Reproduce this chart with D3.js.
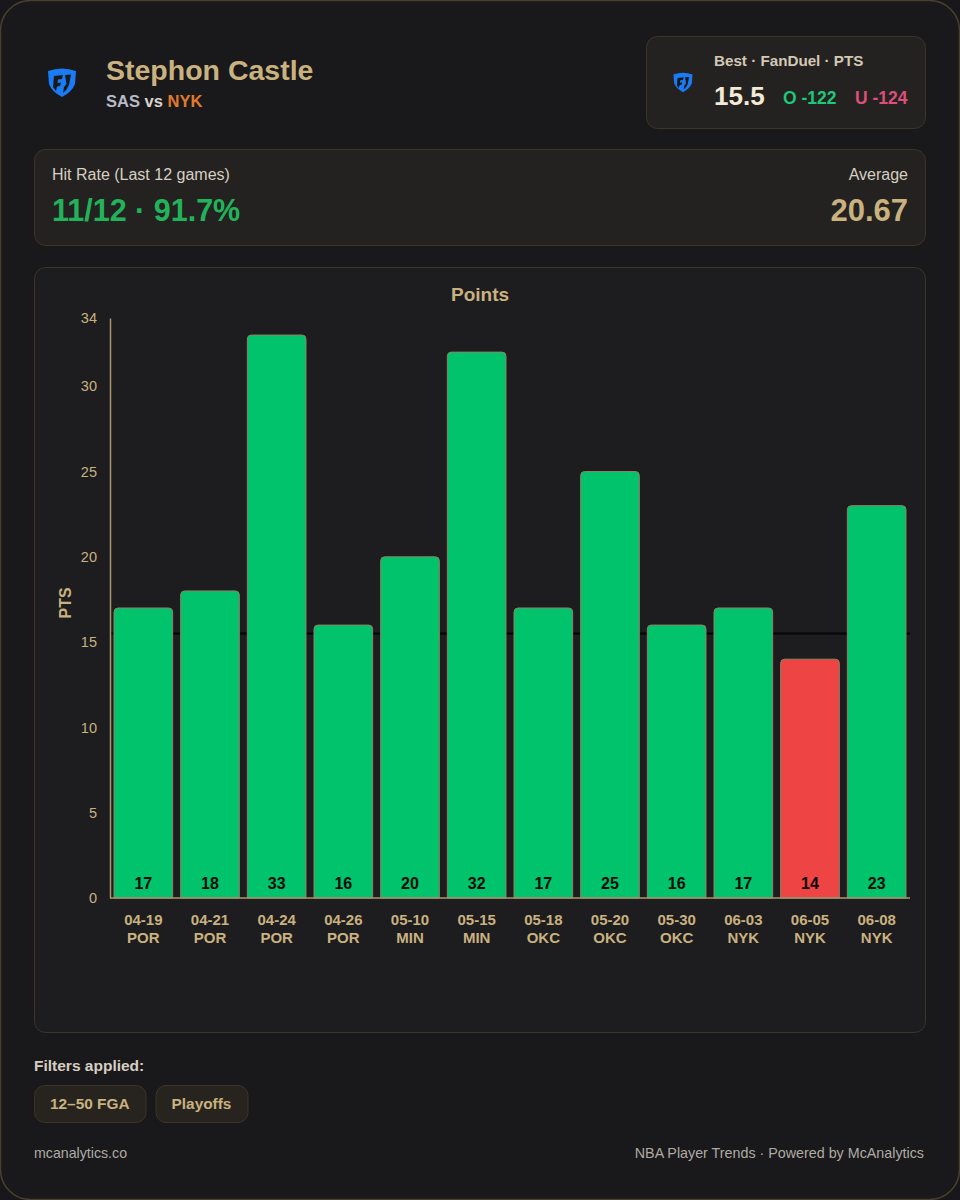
<!DOCTYPE html>
<html>
<head>
<meta charset="utf-8">
<script src="https://cdn.jsdelivr.net/npm/d3@7"></script>
<style>
  html, body { margin: 0; padding: 0; background: #18171a; }
  svg { display: block; font-family: "Liberation Sans", Arial, sans-serif; }
</style>
</head>
<body>
<svg id="chart" width="960" height="1200"></svg>
<script>
// game data
const dates = ["04-19", "04-21", "04-24", "04-26", "05-10", "05-15", "05-18", "05-20", "05-30", "06-03", "06-05", "06-08"];
const opponents = ["POR", "POR", "POR", "POR", "MIN", "MIN", "OKC", "OKC", "OKC", "NYK", "NYK", "NYK"];
const points = [17, 18, 33, 16, 20, 32, 17, 25, 16, 17, 14, 23];
const yTicks = [0, 5, 10, 15, 20, 25, 30, 34];
const line = 15.5;
const filters = ["12\u201350 FGA", "Playoffs"];

const svg = d3.select("#chart");

const tan = "#c9b27f";
const panelFill = "#242220";
const panelStroke = "#3d3526";

// outer card
svg.append("rect")
    .attr("x", 0.5).attr("y", 0.5)
    .attr("width", 959).attr("height", 1199)
    .attr("rx", 30)
    .style("fill", "#19181b")
    .style("stroke", "#4a3f2a")
    .style("stroke-width", "1.5px");

// fanduel shield logo
function shield(g, cx, cy, s) {
    let p = g.append("g").attr("transform", "translate(" + cx + "," + cy + ") scale(" + s + ")");
    p.append("path")
        .attr("d", "M-14 -11 Q0 -16 14 -11 L13 2 Q10 10 0 15 Q-10 10 -13 2 Z")
        .style("fill", "#1a7cf5");
    p.append("path")
        .attr("d", "M-8 -6 L1 -7 L0 -3 L-4 -2.5 L-4.5 1 L-1 0.5 L-2 4 L-5 4.5 L-6 9 L-9 5 Z")
        .style("fill", "#19181b");
    p.append("path")
        .attr("d", "M3 -7 L9 -7.5 L7 3 Q5 8 1 11 L2 5 L4.5 2 Z")
        .style("fill", "#19181b");
}

shield(svg, 62, 82, 1.0);

svg.append("text")
    .attr("x", 106).attr("y", 80)
    .style("font-size", "28.5px").style("font-weight", "bold")
    .style("fill", tan)
    .text("Stephon Castle");

let sub = svg.append("text")
    .attr("x", 106).attr("y", 107)
    .style("font-size", "16.5px").style("font-weight", "bold");
sub.append("tspan").style("fill", "#b8bcc4").text("SAS");
sub.append("tspan").style("fill", "#d8d4cc").text(" vs ");
sub.append("tspan").style("fill", "#e27a2c").text("NYK");

// best line box
svg.append("rect")
    .attr("x", 646.5).attr("y", 36.5)
    .attr("width", 279).attr("height", 92)
    .attr("rx", 11)
    .style("fill", panelFill).style("stroke", panelStroke);

shield(svg, 683, 82, 0.68);

svg.append("text")
    .attr("x", 714).attr("y", 66)
    .style("font-size", "15.2px").style("font-weight", "bold")
    .style("fill", "#d2c9b6")
    .text("Best \u00b7 FanDuel \u00b7 PTS");

svg.append("text")
    .attr("x", 714).attr("y", 105)
    .style("font-size", "26px").style("font-weight", "bold")
    .style("fill", "#f3ead6")
    .text(line);

svg.append("text")
    .attr("x", 783).attr("y", 104)
    .style("font-size", "17.5px").style("font-weight", "bold")
    .style("fill", "#1fc77a")
    .text("O -122");

svg.append("text")
    .attr("x", 855).attr("y", 104)
    .style("font-size", "17.5px").style("font-weight", "bold")
    .style("fill", "#dc4f7a")
    .text("U -124");

// hit rate panel
let hits = points.filter(function (d) { return d > line; }).length;
let avg = d3.mean(points);

svg.append("rect")
    .attr("x", 34.5).attr("y", 149.5)
    .attr("width", 891).attr("height", 96)
    .attr("rx", 11)
    .style("fill", panelFill).style("stroke", panelStroke);

svg.append("text")
    .attr("x", 52).attr("y", 180)
    .style("font-size", "16px")
    .style("fill", "#d6cfc2")
    .text("Hit Rate (Last " + points.length + " games)");

svg.append("text")
    .attr("x", 52).attr("y", 221)
    .style("font-size", "30.5px").style("font-weight", "bold")
    .style("fill", "#22b35a")
    .text(hits + "/" + points.length + " \u00b7 " + (hits / points.length * 100).toFixed(1) + "%");

svg.append("text")
    .attr("x", 908).attr("y", 180)
    .attr("text-anchor", "end")
    .style("font-size", "16px")
    .style("fill", "#d6cfc2")
    .text("Average");

svg.append("text")
    .attr("x", 908).attr("y", 221)
    .attr("text-anchor", "end")
    .style("font-size", "31px").style("font-weight", "bold")
    .style("fill", tan)
    .text(avg.toFixed(2));

// chart panel
svg.append("rect")
    .attr("x", 34.5).attr("y", 267.5)
    .attr("width", 891).attr("height", 765)
    .attr("rx", 11)
    .style("fill", "#1d1c1f").style("stroke", panelStroke);

svg.append("text")
    .attr("x", 480).attr("y", 301)
    .attr("text-anchor", "middle")
    .style("font-size", "19px").style("font-weight", "bold")
    .style("fill", tan)
    .text("Points");

let x = d3.scaleBand()
    .domain(dates)
    .range([110, 910])
    .paddingInner(0.12)
    .paddingOuter(0.06);

let y = d3.scaleLinear()
    .domain([0, 34])
    .range([898, 318]);

// threshold line behind the bars
svg.append("line")
    .attr("x1", 110).attr("x2", 910)
    .attr("y1", y(line)).attr("y2", y(line))
    .style("stroke", "#050505")
    .style("stroke-width", "2px");

let bars = svg.append("g").classed("bars", true);

bars.selectAll("path")
    .data(points)
    .enter().append("path")
    .attr("d", function (d, i) {
        let x0 = x(dates[i]), w = x.bandwidth(), top = y(d), bot = y(0), r = 4;
        return "M" + x0 + " " + bot + " V" + (top + r) + " Q" + x0 + " " + top + " " + (x0 + r) + " " + top +
            " H" + (x0 + w - r) + " Q" + (x0 + w) + " " + top + " " + (x0 + w) + " " + (top + r) + " V" + bot + " Z";
    })
    .style("fill", function (d) { return d > line ? "#00c36b" : "#ef4444"; })
    .style("stroke", "#8f8466")
    .style("stroke-width", "1px");

bars.selectAll("text")
    .data(points)
    .enter().append("text")
    .attr("x", function (d, i) { return x(dates[i]) + x.bandwidth() / 2; })
    .attr("y", 889)
    .attr("text-anchor", "middle")
    .style("font-size", "16px").style("font-weight", "bold")
    .style("fill", "#0a0a0a")
    .text(function (d) { return d; });

// y axis
let yAxis = svg.append("g")
    .attr("transform", "translate(110,0)")
    .call(d3.axisLeft(y).tickValues(yTicks).tickSize(0).tickPadding(13));

yAxis.select(".domain").style("stroke", "#a8966c").style("stroke-width", "1.5px");
yAxis.selectAll("text")
    .style("font-size", "14.5px")
    .style("font-family", "Liberation Sans, Arial, sans-serif")
    .style("fill", tan);

// x axis line
svg.append("line")
    .attr("x1", 110).attr("x2", 910)
    .attr("y1", y(0)).attr("y2", y(0))
    .style("stroke", "#a8966c")
    .style("stroke-width", "1.5px");

let xl = svg.append("g").classed("x-labels", true);
xl.selectAll("text")
    .data(dates)
    .enter().append("text")
    .attr("x", function (d) { return x(d) + x.bandwidth() / 2; })
    .attr("y", 925)
    .attr("text-anchor", "middle")
    .style("font-size", "15px").style("font-weight", "bold")
    .style("fill", tan)
    .each(function (d, i) {
        let t = d3.select(this);
        t.append("tspan").attr("x", x(d) + x.bandwidth() / 2).text(d);
        t.append("tspan").attr("x", x(d) + x.bandwidth() / 2).attr("dy", 17.5).text(opponents[i]);
    });

svg.append("text")
    .attr("transform", "translate(71," + (y(17.3)) + ") rotate(-90)")
    .attr("text-anchor", "middle")
    .style("font-size", "16px").style("font-weight", "bold")
    .style("fill", tan)
    .text("PTS");

// filters
svg.append("text")
    .attr("x", 34).attr("y", 1071)
    .style("font-size", "15.5px").style("font-weight", "bold")
    .style("fill", "#d6cfc2")
    .text("Filters applied:");

let pillX = 34;
filters.forEach(function (f) {
    let g = svg.append("g");
    let t = g.append("text")
        .attr("x", pillX + 16).attr("y", 1109)
        .style("font-size", "15.4px").style("font-weight", "bold")
        .style("fill", tan)
        .text(f);
    let w = t.node().getComputedTextLength() + 32;
    g.insert("rect", "text")
        .attr("x", pillX + 0.5).attr("y", 1085.5)
        .attr("width", w).attr("height", 37)
        .attr("rx", 10)
        .style("fill", "#27241f").style("stroke", panelStroke);
    pillX += w + 10;
});

// footer
svg.append("text")
    .attr("x", 34).attr("y", 1158)
    .style("font-size", "14.2px")
    .style("fill", "#b0aba3")
    .text("mcanalytics.co");

svg.append("text")
    .attr("x", 924).attr("y", 1158)
    .attr("text-anchor", "end")
    .style("font-size", "14.3px")
    .style("fill", "#b0aba3")
    .text("NBA Player Trends \u00b7 Powered by McAnalytics");
</script>
</body>
</html>
